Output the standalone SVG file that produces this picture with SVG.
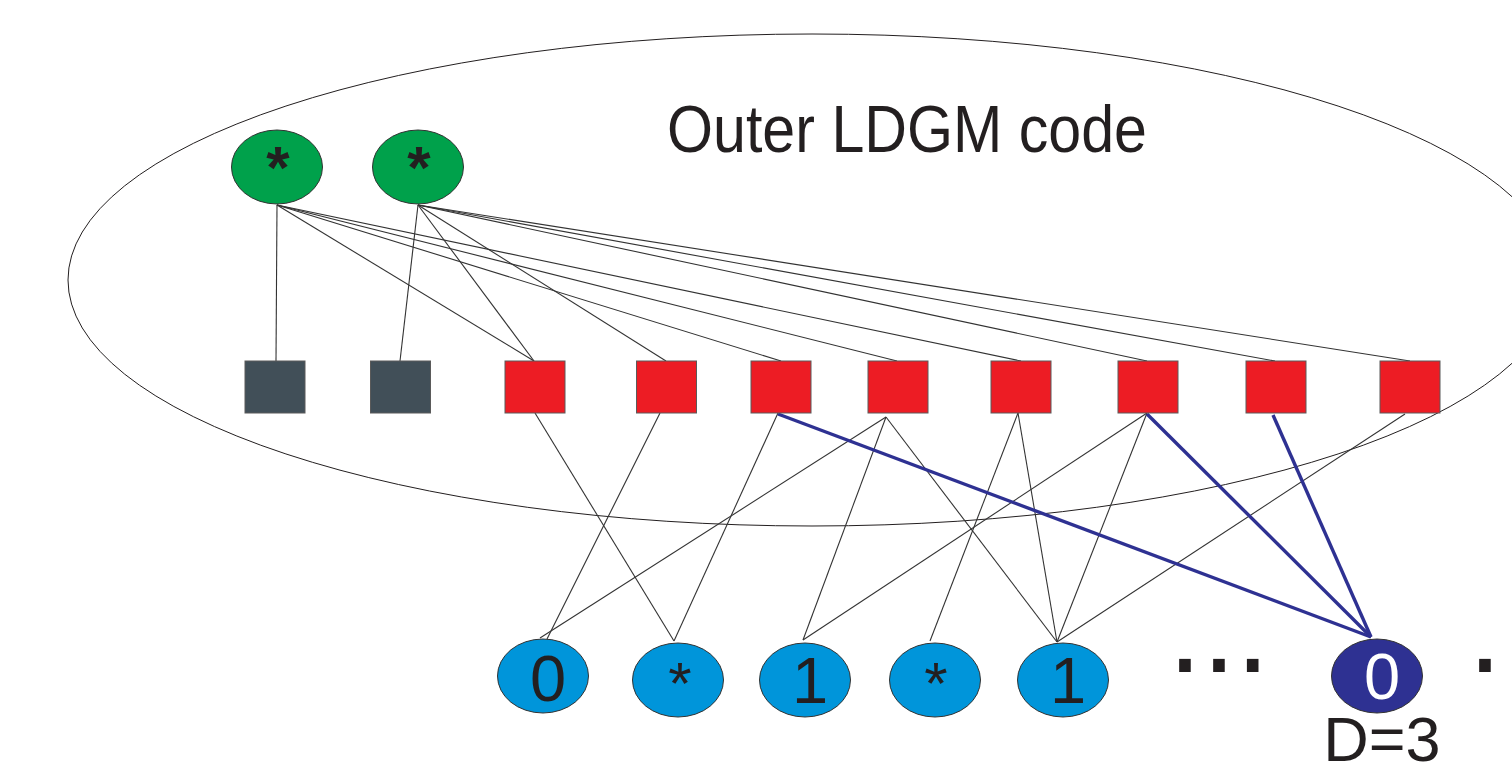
<svg xmlns="http://www.w3.org/2000/svg" width="1512" height="770" viewBox="0 0 1512 770">
<style>
.t{font-family:"Liberation Sans",Arial,sans-serif;fill:#231f20}
.thin{stroke:#333;stroke-width:1.1;fill:none}
.blue{stroke:#2e3192;stroke-width:3.4;fill:none}
.sqd{fill:#414f58;stroke:#5a5a5a;stroke-width:1}
.sqr{fill:#ed1c24;stroke:#5a5a5a;stroke-width:1}
.grn{fill:#00a14b;stroke:#333;stroke-width:1}
.cb{fill:#0095da;stroke:#333;stroke-width:1}
.cd{fill:#2e3192;stroke:#333;stroke-width:1}
.lbl{font-size:65px;text-anchor:middle}
.star{font-size:60px;text-anchor:middle}
</style>
<rect width="1512" height="770" fill="#ffffff"/>
<g id="outer">
<ellipse cx="812" cy="280" rx="744" ry="246" fill="none" stroke="#231f20" stroke-width="1"/>
<text class="t" x="667" y="152" font-size="67" textLength="480" lengthAdjust="spacingAndGlyphs">Outer LDGM code</text>
</g>
<g id="connectors">
<line class="thin" x1="277" y1="205" x2="276" y2="361"/>
<line class="thin" x1="277" y1="205" x2="534" y2="361"/>
<line class="thin" x1="277" y1="205" x2="781" y2="361"/>
<line class="thin" x1="277" y1="205" x2="897" y2="361"/>
<line class="thin" x1="277" y1="205" x2="1021" y2="361"/>
<line class="thin" x1="418" y1="205" x2="400" y2="361"/>
<line class="thin" x1="418" y1="205" x2="534" y2="361"/>
<line class="thin" x1="418" y1="205" x2="666" y2="361"/>
<line class="thin" x1="418" y1="205" x2="1147" y2="361"/>
<line class="thin" x1="418" y1="205" x2="1275" y2="361"/>
<line class="thin" x1="418" y1="205" x2="1410" y2="361"/>
<line class="thin" x1="535" y1="413" x2="674" y2="641"/>
<line class="thin" x1="660" y1="413" x2="547" y2="639"/>
<line class="thin" x1="778" y1="413" x2="674" y2="641"/>
<line class="thin" x1="886" y1="417" x2="540" y2="638"/>
<line class="thin" x1="886" y1="417" x2="803" y2="640"/>
<line class="thin" x1="886" y1="417" x2="1057" y2="642"/>
<line class="thin" x1="1018" y1="413" x2="930" y2="641"/>
<line class="thin" x1="1018" y1="413" x2="1057" y2="642"/>
<line class="thin" x1="1147" y1="413" x2="803" y2="640"/>
<line class="thin" x1="1147" y1="413" x2="1057" y2="642"/>
<line class="thin" x1="1405" y1="414" x2="1057" y2="642"/>
<line class="blue" x1="778" y1="414" x2="1371" y2="637"/>
<line class="blue" x1="1147" y1="414" x2="1371" y2="637"/>
<line class="blue" x1="1273" y1="415" x2="1371" y2="637"/>
</g>
<g id="g1"><ellipse class="grn" cx="277" cy="167" rx="45.5" ry="37"/><text class="t star" x="278" y="188" font-weight="bold">*</text></g>
<g id="g2"><ellipse class="grn" cx="418" cy="167" rx="45.5" ry="37"/><text class="t star" x="419" y="188" font-weight="bold">*</text></g>
<g id="s1"><rect class="sqd" x="245" y="361" width="60" height="52"/></g>
<g id="s2"><rect class="sqd" x="370.5" y="361" width="60" height="52"/></g>
<g id="s3"><rect class="sqr" x="505" y="361" width="60" height="52"/></g>
<g id="s4"><rect class="sqr" x="636.5" y="361" width="60" height="52"/></g>
<g id="s5"><rect class="sqr" x="751" y="361" width="60" height="52"/></g>
<g id="s6"><rect class="sqr" x="868" y="361" width="60" height="52"/></g>
<g id="s7"><rect class="sqr" x="991" y="361" width="60" height="52"/></g>
<g id="s8"><rect class="sqr" x="1118" y="361" width="60" height="52"/></g>
<g id="s9"><rect class="sqr" x="1246" y="361" width="60" height="52"/></g>
<g id="s10"><rect class="sqr" x="1380" y="361" width="60" height="52"/></g>
<g id="c1"><ellipse class="cb" cx="543" cy="676" rx="45.5" ry="37"/><text class="t lbl" x="548" y="701">0</text></g>
<g id="c2"><ellipse class="cb" cx="678" cy="680" rx="45.5" ry="37"/><text class="t star" x="680" y="704">*</text></g>
<g id="c3"><ellipse class="cb" cx="805" cy="680" rx="45.5" ry="37"/><text class="t lbl" x="810" y="703">1</text></g>
<g id="c4"><ellipse class="cb" cx="935" cy="680" rx="45.5" ry="37"/><text class="t star" x="936" y="704">*</text></g>
<g id="c5"><ellipse class="cb" cx="1063" cy="680" rx="45.5" ry="37"/><text class="t lbl" x="1068" y="703">1</text></g>
<g id="c6"><ellipse class="cd" cx="1377" cy="676" rx="45.5" ry="37"/><text class="t lbl" x="1382" y="699" style="fill:#ffffff">0</text></g>
<g id="labels">
<text class="t" x="1168" y="672" font-size="122">...</text>
<text class="t" x="1468" y="672" font-size="122">.</text>
<text class="t" x="1382" y="761" font-size="63" text-anchor="middle">D=3</text>
</g>
</svg>
